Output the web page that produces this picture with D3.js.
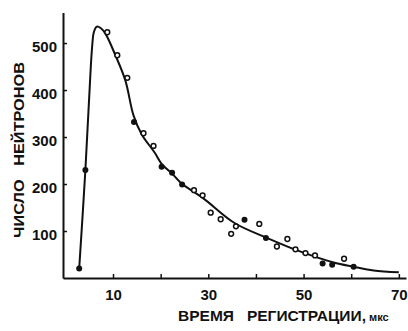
<!DOCTYPE html>
<html>
<head>
<meta charset="utf-8">
<script src="https://cdn.jsdelivr.net/npm/d3@7"></script>
<style>
  body { margin: 0; background: #fff; }
  svg { display: block; }
  text { font-family: "Liberation Sans", Arial, sans-serif; fill: #111; }
</style>
</head>
<body>
<svg id="chart"></svg>
<script>
// measured points (open circles and filled dots)
const openX = [8.8, 10.9, 13.0, 16.4, 18.5, 27.0, 28.8, 30.5, 32.6, 34.8, 35.8, 40.7, 44.4, 46.6, 48.3, 50.4, 52.4, 58.5]
const openY = [523, 474, 426, 308, 281, 187, 176, 139, 125, 94, 110, 115, 67, 83, 61, 53, 48, 41]
const filledX = [2.9, 4.2, 14.4, 20.2, 22.4, 24.5, 37.6, 42.1, 54.0, 56.0, 60.5]
const filledY = [20, 230, 332, 237, 224, 199, 124, 85, 31, 28, 24]

// hand-drawn fitted curve
const curveX = [2.9, 4.2, 5.0, 5.6, 6.0, 6.6, 7.4, 8.4, 10.5, 12.6, 14.3, 16.0, 18.8, 20.2, 22.6, 24.4, 28.9, 35.5, 42.4, 49.4, 56.3, 60.5, 64.7, 70.0]
const curveY = [20, 230, 385, 490, 524, 535, 532, 520, 474, 420, 346, 306, 266, 243, 220, 201, 170, 117, 85, 56, 33, 24, 16, 12]

const xTicks = [10, 20, 30, 40, 50, 60, 70]
const xLabels = [10, 30, 50, 70]
const yTicks = [100, 200, 300, 400, 500]

const width = 408
const height = 331

const svg = d3.select('#chart')
    .attr('width', width)
    .attr('height', height)

const x = d3.scaleLinear().domain([-0.5, 71.5]).range([63, 406])
const y = d3.scaleLinear().domain([0, 565]).range([278, 12.5])

// axes
const xAxis = d3.axisBottom(x)
    .tickValues(xTicks)
    .tickSizeInner(-4)
    .tickSizeOuter(0)
    .tickFormat(d => xLabels.includes(d) ? d : '')

const yAxis = d3.axisLeft(y)
    .tickValues(yTicks)
    .tickSizeInner(-4)
    .tickSizeOuter(0)

const gx = svg.append('g')
    .attr('transform', `translate(0, ${y(0)})`)
    .call(xAxis)

const gy = svg.append('g')
    .attr('transform', `translate(${x(-0.5)}, 0)`)
    .call(yAxis)

gx.select('.domain').attr('stroke', '#111').attr('stroke-width', 2)
gy.select('.domain').attr('stroke', '#111').attr('stroke-width', 2)
svg.selectAll('.tick line').attr('stroke', '#111').attr('stroke-width', 1.5)

gx.selectAll('.tick text')
    .attr('y', 11)
    .attr('font-size', 15)
    .attr('font-weight', 'bold')
    .attr('font-family', '"Liberation Sans", Arial, sans-serif')
    .attr('fill', '#111')

gy.selectAll('.tick text')
    .attr('x', -6)
    .attr('y', 4)
    .attr('font-size', 15)
    .attr('font-weight', 'bold')
    .attr('font-family', '"Liberation Sans", Arial, sans-serif')
    .attr('fill', '#111')

// axis titles
svg.append('text')
    .attr('transform', 'translate(24, 150) rotate(-90)')
    .attr('text-anchor', 'middle')
    .attr('font-size', 15)
    .attr('font-weight', 'bold')
    .style('white-space', 'pre')
    .attr('textLength', 176)
    .attr('lengthAdjust', 'spacingAndGlyphs')
    .text('ЧИСЛО   НЕЙТРОНОВ')

svg.append('text')
    .attr('x', 178)
    .attr('y', 321)
    .attr('font-size', 14)
    .attr('font-weight', 'bold')
    .style('white-space', 'pre')
    .attr('textLength', 188)
    .attr('lengthAdjust', 'spacingAndGlyphs')
    .text('ВРЕМЯ   РЕГИСТРАЦИИ,')

svg.append('text')
    .attr('x', 369)
    .attr('y', 321)
    .attr('font-size', 11)
    .attr('font-weight', 'bold')
    .text('мкс')

// curve
const line = d3.line()
    .x(d => x(d[0]))
    .y(d => y(d[1]))
    .curve(d3.curveCatmullRom.alpha(0.5))

svg.append('path')
    .datum(d3.zip(curveX, curveY))
    .attr('d', line)
    .attr('fill', 'none')
    .attr('stroke', '#111')
    .attr('stroke-width', 2)

// points
svg.append('g')
    .selectAll('circle')
    .data(d3.zip(openX, openY))
    .join('circle')
    .attr('cx', d => x(d[0]))
    .attr('cy', d => y(d[1]))
    .attr('r', 2.4)
    .attr('fill', '#fff')
    .attr('stroke', '#111')
    .attr('stroke-width', 1.5)

svg.append('g')
    .selectAll('circle')
    .data(d3.zip(filledX, filledY))
    .join('circle')
    .attr('cx', d => x(d[0]))
    .attr('cy', d => y(d[1]))
    .attr('r', 3)
    .attr('fill', '#111')
</script>
</body>
</html>
